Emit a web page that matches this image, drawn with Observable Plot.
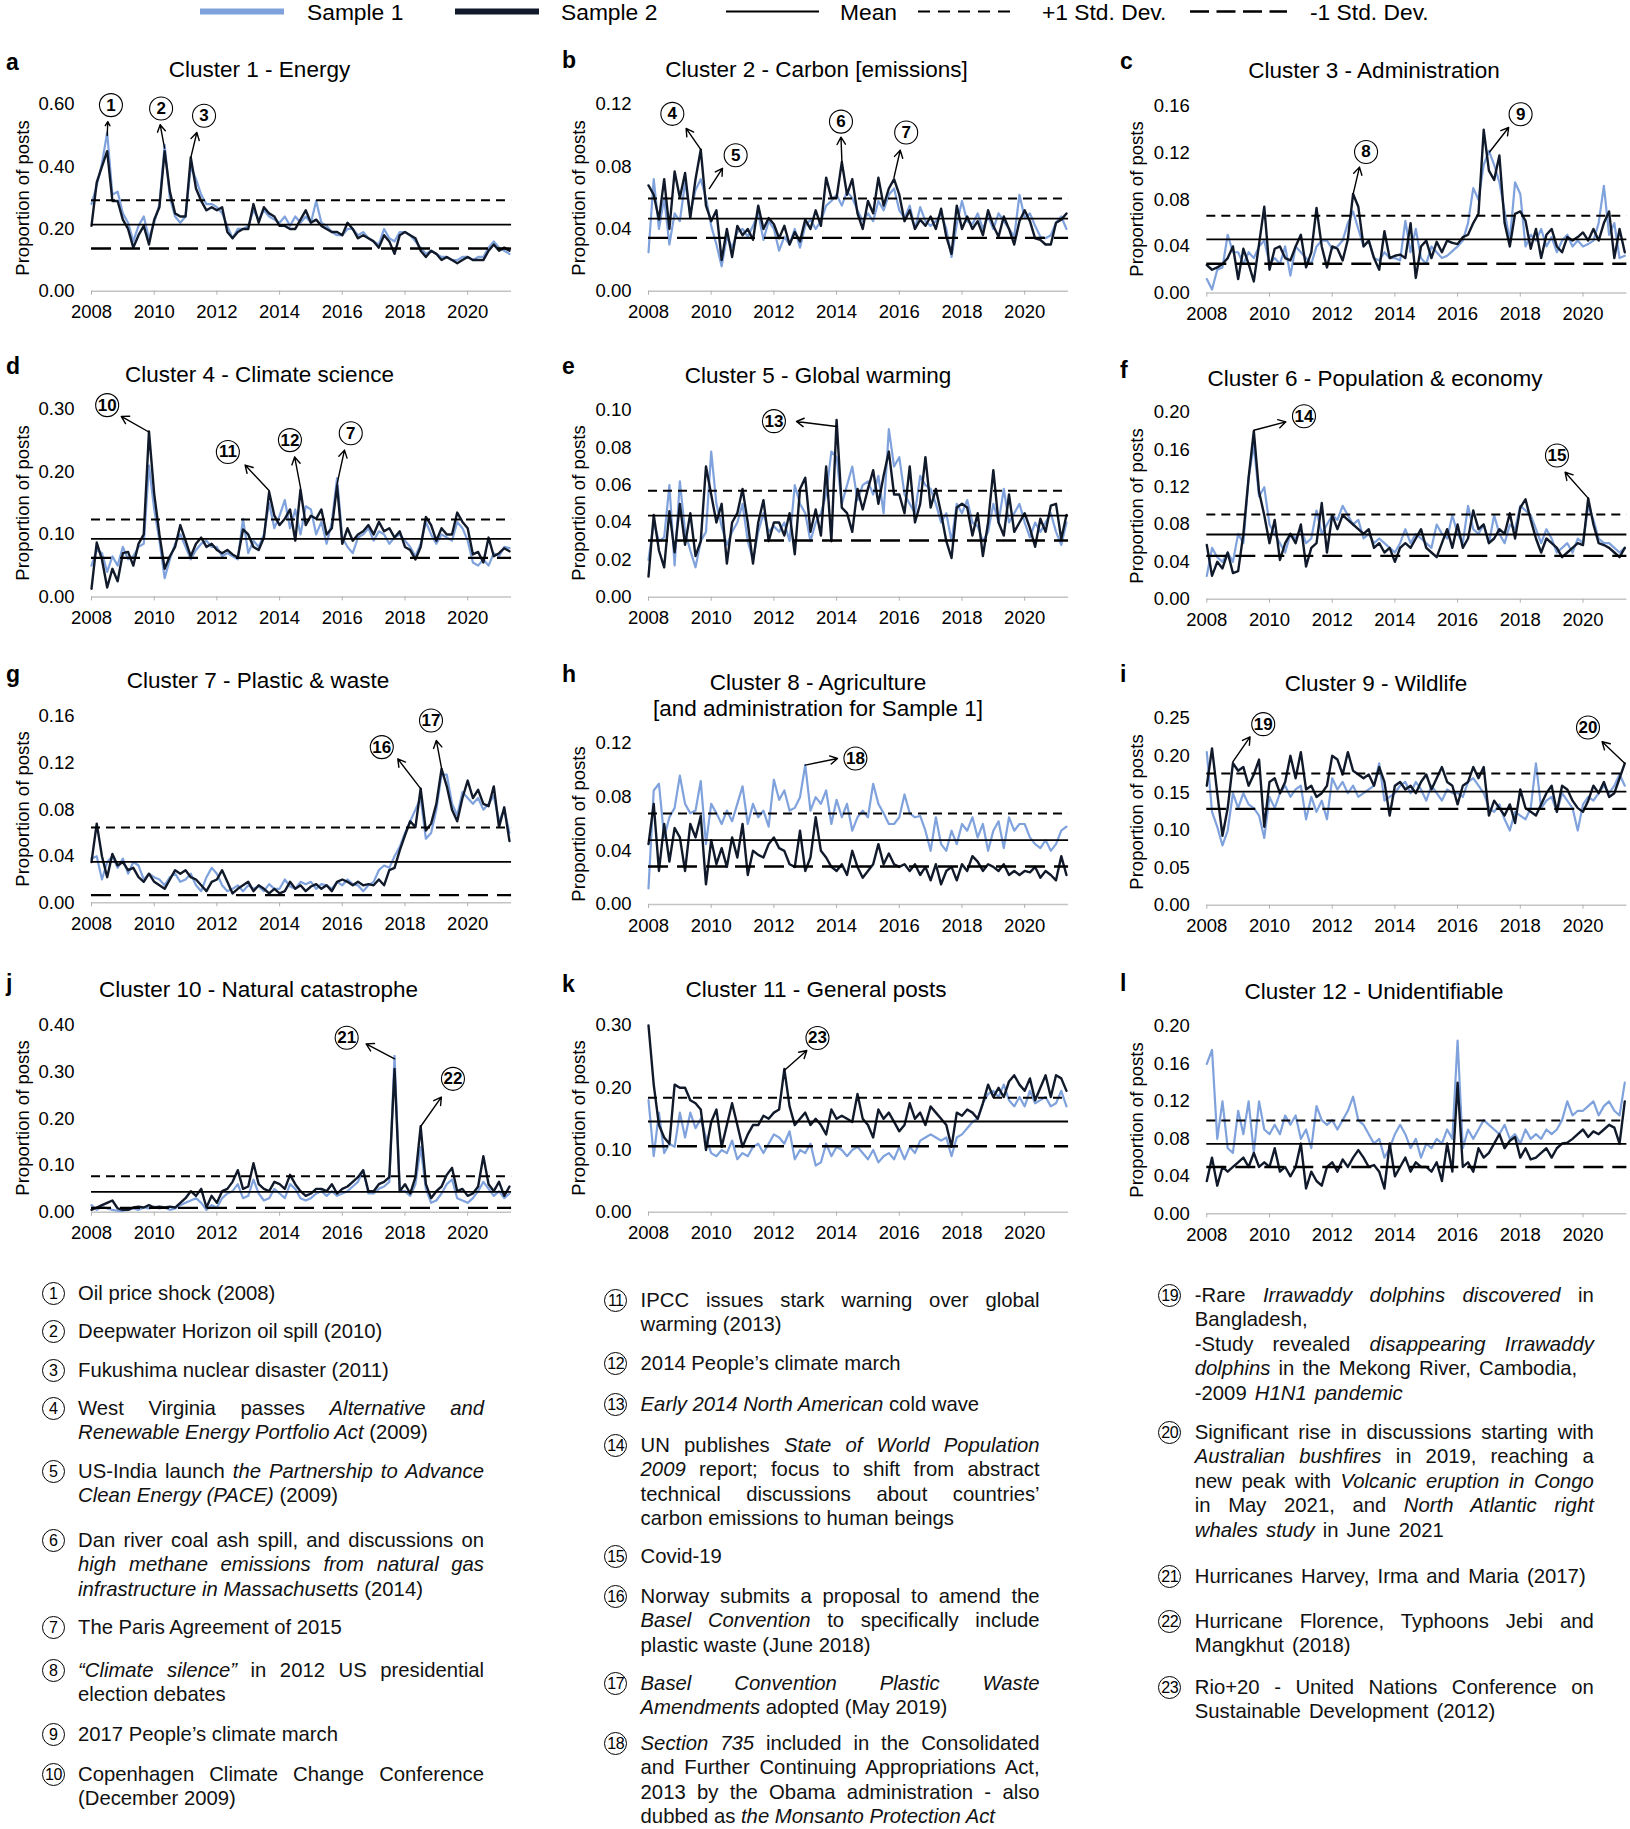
<!DOCTYPE html>
<html><head><meta charset="utf-8">
<script src="https://cdn.jsdelivr.net/npm/d3@7"></script>
<script src="https://cdn.jsdelivr.net/npm/@observablehq/plot@0.6"></script>
<style>
html,body{margin:0;padding:0;background:#fff;}
#root{position:relative;width:1630px;height:1829px;overflow:hidden;font-family:"Liberation Sans",Arial,Helvetica,sans-serif;color:#000;}
.abs{position:absolute;white-space:nowrap;}
.note{position:absolute;font-size:20.3px;line-height:24.5px;text-align:justify;color:#111;}
.num{position:absolute;width:21px;height:21px;border:1.3px solid #000;border-radius:50%;font-size:16px;line-height:21px;text-align:center;box-sizing:content-box;color:#000;}
</style></head>
<body><div id="root"></div>
<script>
// ---------------- DATA ----------------
// bimonthly samples: Jan 2008, Mar 2008, ... May 2021
const months = d3.range(81).map(i => 2008 + i / 6);
const xTicks = [2008, 2010, 2012, 2014, 2016, 2018, 2020];
const legendLabels = ["Sample 1", "Sample 2", "Mean", "+1 Std. Dev.", "-1 Std. Dev."];
const panelLetters = ["a","b","c","d","e","f","g","h","i","j","k","l"];
const titles = [
  ["Cluster 1 - Energy"], ["Cluster 2 - Carbon [emissions]"], ["Cluster 3 - Administration"],
  ["Cluster 4 - Climate science"], ["Cluster 5 - Global warming"], ["Cluster 6 - Population & economy"],
  ["Cluster 7 - Plastic & waste"], ["Cluster 8 - Agriculture", "[and administration for Sample 1]"], ["Cluster 9 - Wildlife"],
  ["Cluster 10 - Natural catastrophe"], ["Cluster 11 - General posts"], ["Cluster 12 - Unidentifiable"]
];
const yLabel = "Proportion of posts";
const yMax = [0.6, 0.12, 0.16, 0.3, 0.1, 0.2, 0.16, 0.12, 0.25, 0.4, 0.3, 0.2];
const yTicks = [
  [0, 0.2, 0.4, 0.6], [0, 0.04, 0.08, 0.12], [0, 0.04, 0.08, 0.12, 0.16],
  [0, 0.1, 0.2, 0.3], [0, 0.02, 0.04, 0.06, 0.08, 0.1], [0, 0.04, 0.08, 0.12, 0.16, 0.2],
  [0, 0.04, 0.08, 0.12, 0.16], [0, 0.04, 0.08, 0.12], [0, 0.05, 0.1, 0.15, 0.2, 0.25],
  [0, 0.1, 0.2, 0.3, 0.4], [0, 0.1, 0.2, 0.3], [0, 0.04, 0.08, 0.12, 0.16, 0.2]
];
const means   = [0.214, 0.0467, 0.046, 0.0929, 0.0437, 0.0693, 0.0352, 0.048, 0.1522, 0.0436, 0.1457, 0.0747];
const plusSD  = [0.2925, 0.0596, 0.0663, 0.1239, 0.057, 0.0907, 0.0647, 0.0678, 0.1763, 0.0771, 0.1837, 0.0996];
const minusSD = [0.137, 0.0343, 0.0251, 0.0625, 0.0304, 0.0464, 0.0066, 0.0283, 0.129, 0.0093, 0.106, 0.05];

// Cluster 1 - Energy
const c1s1 = [
 0.28,0.34,0.41,0.51,0.31,0.32, 0.25,0.22,0.16,0.21,0.24,0.17, 0.22,0.28,0.47,0.30,0.24,0.22,
 0.24,0.40,0.36,0.31,0.28,0.28, 0.27,0.25,0.21,0.17,0.20,0.20, 0.21,0.26,0.23,0.26,0.24,0.23,
 0.22,0.24,0.21,0.24,0.22,0.24, 0.22,0.29,0.22,0.21,0.19,0.18, 0.18,0.20,0.20,0.18,0.19,0.17,
 0.16,0.15,0.20,0.17,0.16,0.19, 0.19,0.18,0.16,0.14,0.12,0.13, 0.12,0.11,0.11,0.10,0.10,0.11,
 0.11,0.10,0.11,0.11,0.14,0.16, 0.14,0.13,0.12];
const c1s2 = [
 0.21,0.35,0.40,0.45,0.29,0.29, 0.23,0.20,0.14,0.18,0.21,0.15, 0.23,0.27,0.45,0.32,0.25,0.24,
 0.24,0.43,0.33,0.29,0.26,0.27, 0.26,0.27,0.19,0.17,0.19,0.20, 0.20,0.28,0.22,0.27,0.25,0.24,
 0.21,0.21,0.20,0.20,0.23,0.26, 0.22,0.23,0.21,0.20,0.19,0.19, 0.18,0.22,0.20,0.17,0.18,0.17,
 0.16,0.14,0.18,0.16,0.12,0.18, 0.19,0.18,0.17,0.13,0.11,0.13, 0.12,0.10,0.11,0.10,0.09,0.10,
 0.11,0.10,0.10,0.10,0.13,0.15, 0.13,0.14,0.13];
// Cluster 2 - Carbon
const c2s1 = [
 0.025,0.072,0.040,0.060,0.030,0.050, 0.045,0.070,0.050,0.065,0.072,0.060, 0.042,0.030,0.016,0.035,0.028,0.038,
 0.040,0.035,0.042,0.050,0.033,0.045, 0.040,0.026,0.035,0.030,0.040,0.028, 0.042,0.046,0.040,0.045,0.055,0.058,
 0.062,0.055,0.064,0.060,0.052,0.045, 0.050,0.045,0.058,0.052,0.062,0.066, 0.052,0.047,0.055,0.040,0.054,0.045,
 0.042,0.045,0.050,0.040,0.022,0.043, 0.058,0.045,0.043,0.050,0.040,0.048, 0.040,0.050,0.045,0.040,0.035,0.062,
 0.047,0.050,0.042,0.035,0.034,0.036, 0.044,0.048,0.040];
const c2s2 = [
 0.068,0.062,0.046,0.072,0.040,0.077, 0.060,0.076,0.047,0.072,0.091,0.055, 0.045,0.052,0.020,0.040,0.022,0.042,
 0.036,0.040,0.033,0.055,0.040,0.047, 0.043,0.034,0.042,0.030,0.038,0.032, 0.046,0.040,0.052,0.042,0.073,0.060,
 0.060,0.083,0.062,0.072,0.050,0.040, 0.058,0.050,0.073,0.055,0.066,0.072, 0.062,0.045,0.052,0.040,0.046,0.042,
 0.048,0.040,0.053,0.035,0.024,0.055, 0.040,0.048,0.040,0.045,0.036,0.052, 0.042,0.035,0.048,0.040,0.030,0.045,
 0.052,0.045,0.034,0.033,0.030,0.030, 0.044,0.046,0.050];
// Cluster 3 - Administration
const c3s1 = [
 0.012,0.003,0.020,0.022,0.050,0.035, 0.035,0.025,0.035,0.030,0.040,0.045, 0.025,0.030,0.025,0.040,0.015,0.040,
 0.035,0.030,0.025,0.040,0.045,0.045, 0.038,0.040,0.045,0.060,0.070,0.055, 0.040,0.045,0.030,0.028,0.035,0.030,
 0.030,0.028,0.062,0.035,0.055,0.030, 0.025,0.040,0.035,0.030,0.032,0.036, 0.040,0.045,0.060,0.090,0.080,0.110,
 0.122,0.110,0.095,0.070,0.045,0.095, 0.085,0.040,0.050,0.045,0.055,0.040, 0.048,0.035,0.045,0.050,0.040,0.045,
 0.040,0.042,0.045,0.060,0.092,0.050, 0.060,0.030,0.032];
const c3s2 = [
 0.024,0.020,0.022,0.025,0.030,0.040, 0.012,0.038,0.025,0.010,0.042,0.074, 0.020,0.038,0.040,0.030,0.028,0.040,
 0.050,0.022,0.035,0.073,0.040,0.022, 0.040,0.038,0.028,0.046,0.085,0.074, 0.040,0.045,0.030,0.020,0.053,0.030,
 0.032,0.033,0.030,0.060,0.013,0.040, 0.045,0.030,0.044,0.035,0.045,0.043, 0.042,0.048,0.050,0.060,0.068,0.140,
 0.105,0.097,0.118,0.060,0.040,0.068, 0.070,0.062,0.038,0.055,0.030,0.050, 0.055,0.040,0.035,0.048,0.045,0.048,
 0.052,0.045,0.055,0.045,0.060,0.070, 0.030,0.055,0.035];
// Cluster 4 - Climate science
const c4s1 = [
 0.050,0.075,0.070,0.040,0.065,0.050, 0.080,0.060,0.065,0.080,0.085,0.210, 0.140,0.090,0.030,0.060,0.085,0.100,
 0.080,0.060,0.075,0.085,0.090,0.080, 0.080,0.065,0.070,0.065,0.060,0.125, 0.070,0.090,0.080,0.100,0.150,0.110,
 0.130,0.155,0.110,0.140,0.100,0.145, 0.140,0.100,0.120,0.085,0.120,0.190, 0.095,0.080,0.070,0.095,0.100,0.110,
 0.090,0.105,0.100,0.085,0.095,0.100, 0.090,0.080,0.065,0.085,0.120,0.100, 0.085,0.100,0.095,0.090,0.120,0.110,
 0.090,0.055,0.050,0.060,0.050,0.070, 0.065,0.080,0.078];
const c4s2 = [
 0.013,0.087,0.060,0.015,0.045,0.025, 0.070,0.072,0.050,0.085,0.100,0.265, 0.165,0.100,0.045,0.065,0.080,0.115,
 0.090,0.065,0.085,0.095,0.080,0.085, 0.075,0.070,0.075,0.068,0.063,0.108, 0.100,0.080,0.075,0.095,0.168,0.130,
 0.115,0.125,0.140,0.090,0.172,0.115, 0.130,0.125,0.140,0.100,0.110,0.178, 0.085,0.110,0.090,0.100,0.105,0.115,
 0.100,0.120,0.105,0.110,0.095,0.105, 0.080,0.075,0.060,0.080,0.128,0.115, 0.090,0.110,0.100,0.100,0.135,0.120,
 0.110,0.068,0.072,0.055,0.095,0.065, 0.070,0.078,0.073];
// Cluster 5 - Global warming
const c5s1 = [
 0.020,0.040,0.030,0.032,0.060,0.017, 0.062,0.035,0.025,0.016,0.030,0.035, 0.078,0.050,0.038,0.028,0.035,0.040,
 0.050,0.030,0.020,0.035,0.045,0.035, 0.038,0.035,0.040,0.030,0.060,0.050, 0.045,0.030,0.040,0.045,0.055,0.078,
 0.075,0.050,0.060,0.070,0.052,0.060, 0.062,0.055,0.065,0.045,0.090,0.070, 0.075,0.055,0.050,0.045,0.065,0.060,
 0.058,0.050,0.040,0.045,0.030,0.050, 0.045,0.052,0.040,0.038,0.030,0.035, 0.050,0.040,0.058,0.040,0.045,0.050,
 0.040,0.032,0.040,0.035,0.040,0.045, 0.035,0.028,0.040];
const c5s2 = [
 0.011,0.044,0.025,0.016,0.046,0.024, 0.050,0.028,0.045,0.022,0.030,0.070, 0.055,0.040,0.050,0.018,0.040,0.045,
 0.058,0.040,0.018,0.040,0.052,0.030, 0.040,0.040,0.033,0.045,0.023,0.058, 0.064,0.035,0.047,0.033,0.070,0.030,
 0.095,0.048,0.045,0.035,0.058,0.047, 0.058,0.068,0.050,0.065,0.078,0.055, 0.055,0.045,0.070,0.040,0.050,0.075,
 0.048,0.058,0.045,0.030,0.021,0.048, 0.050,0.048,0.033,0.045,0.022,0.040, 0.068,0.040,0.033,0.055,0.035,0.040,
 0.045,0.037,0.027,0.042,0.035,0.049, 0.050,0.031,0.044];
// Cluster 6 - Population & economy
const c6s1 = [
 0.025,0.055,0.045,0.040,0.050,0.040, 0.070,0.060,0.130,0.165,0.110,0.120, 0.080,0.070,0.060,0.050,0.070,0.065,
 0.075,0.060,0.065,0.095,0.070,0.080, 0.090,0.085,0.100,0.090,0.080,0.085, 0.065,0.070,0.060,0.065,0.060,0.055,
 0.050,0.060,0.075,0.060,0.070,0.065, 0.060,0.055,0.080,0.070,0.065,0.090, 0.070,0.060,0.100,0.075,0.070,0.080,
 0.060,0.090,0.070,0.060,0.080,0.075, 0.100,0.095,0.090,0.075,0.060,0.075, 0.065,0.050,0.055,0.060,0.050,0.065,
 0.060,0.100,0.085,0.065,0.060,0.060, 0.055,0.050,0.055];
const c6s2 = [
 0.058,0.025,0.040,0.033,0.050,0.028, 0.030,0.070,0.130,0.180,0.115,0.090, 0.060,0.085,0.042,0.060,0.070,0.060,
 0.080,0.035,0.055,0.060,0.103,0.050, 0.090,0.075,0.090,0.085,0.080,0.075, 0.070,0.075,0.055,0.060,0.050,0.055,
 0.040,0.055,0.060,0.055,0.065,0.075, 0.055,0.050,0.045,0.060,0.075,0.055, 0.080,0.055,0.065,0.095,0.075,0.080,
 0.060,0.065,0.075,0.070,0.092,0.065, 0.098,0.107,0.085,0.065,0.050,0.065, 0.060,0.055,0.045,0.050,0.055,0.060,
 0.058,0.108,0.080,0.060,0.058,0.055, 0.050,0.045,0.055];
// Cluster 7 - Plastic & waste
const c7s1 = [
 0.038,0.040,0.020,0.035,0.040,0.030, 0.038,0.025,0.035,0.032,0.020,0.025, 0.022,0.020,0.015,0.022,0.025,0.018,
 0.020,0.025,0.015,0.010,0.022,0.030, 0.025,0.015,0.010,0.012,0.015,0.010, 0.015,0.012,0.014,0.010,0.016,0.012,
 0.012,0.020,0.014,0.012,0.018,0.016, 0.018,0.012,0.016,0.015,0.012,0.018, 0.015,0.020,0.016,0.015,0.010,0.015,
 0.018,0.028,0.032,0.030,0.040,0.048, 0.060,0.070,0.080,0.090,0.055,0.060, 0.080,0.110,0.110,0.085,0.075,0.095,
 0.090,0.085,0.090,0.080,0.085,0.092, 0.070,0.080,0.060];
const c7s2 = [
 0.035,0.068,0.040,0.022,0.042,0.032, 0.035,0.028,0.030,0.022,0.018,0.025, 0.018,0.015,0.012,0.020,0.028,0.025,
 0.028,0.022,0.020,0.015,0.010,0.018, 0.020,0.028,0.018,0.008,0.012,0.015, 0.018,0.010,0.015,0.012,0.008,0.012,
 0.008,0.010,0.018,0.012,0.015,0.010, 0.014,0.016,0.012,0.015,0.010,0.018, 0.020,0.018,0.015,0.018,0.015,0.016,
 0.015,0.020,0.015,0.028,0.030,0.045, 0.058,0.070,0.065,0.098,0.062,0.068, 0.085,0.115,0.100,0.080,0.070,0.090,
 0.105,0.090,0.097,0.085,0.083,0.100, 0.065,0.082,0.053];
// Cluster 8 - Agriculture
const c8s1 = [
 0.012,0.085,0.090,0.050,0.065,0.072, 0.096,0.075,0.068,0.070,0.092,0.045, 0.075,0.068,0.060,0.070,0.062,0.075,
 0.088,0.060,0.075,0.065,0.070,0.058, 0.093,0.078,0.085,0.070,0.072,0.080, 0.104,0.070,0.080,0.075,0.085,0.060,
 0.078,0.065,0.075,0.055,0.065,0.070, 0.065,0.090,0.075,0.068,0.060,0.060, 0.065,0.082,0.068,0.065,0.066,0.055,
 0.040,0.065,0.045,0.040,0.055,0.045, 0.060,0.055,0.065,0.050,0.060,0.040, 0.055,0.062,0.042,0.065,0.055,0.060,
 0.060,0.050,0.045,0.042,0.048,0.040, 0.045,0.055,0.058];
const c8s2 = [
 0.045,0.075,0.025,0.060,0.032,0.057, 0.050,0.025,0.060,0.050,0.066,0.015, 0.048,0.030,0.042,0.028,0.050,0.035,
 0.060,0.022,0.040,0.037,0.035,0.045, 0.050,0.042,0.040,0.030,0.028,0.055, 0.025,0.035,0.065,0.040,0.035,0.028,
 0.025,0.030,0.022,0.040,0.028,0.020, 0.025,0.030,0.045,0.030,0.038,0.030, 0.028,0.030,0.025,0.030,0.022,0.028,
 0.018,0.030,0.015,0.025,0.028,0.018, 0.030,0.025,0.036,0.032,0.025,0.030, 0.028,0.025,0.030,0.022,0.025,0.022,
 0.025,0.024,0.028,0.020,0.025,0.022, 0.018,0.036,0.022];
// Cluster 9 - Wildlife
const c9s1 = [
 0.205,0.125,0.105,0.080,0.100,0.150, 0.130,0.150,0.135,0.130,0.120,0.090, 0.145,0.130,0.150,0.160,0.145,0.155,
 0.160,0.115,0.145,0.125,0.140,0.115, 0.170,0.155,0.165,0.150,0.160,0.145, 0.150,0.155,0.160,0.190,0.140,0.145,
 0.150,0.160,0.165,0.150,0.165,0.155, 0.140,0.160,0.150,0.140,0.155,0.150, 0.150,0.145,0.165,0.170,0.160,0.150,
 0.130,0.125,0.135,0.115,0.100,0.125, 0.120,0.115,0.130,0.190,0.130,0.140, 0.145,0.125,0.150,0.140,0.130,0.100,
 0.135,0.145,0.140,0.150,0.160,0.150, 0.160,0.175,0.160];
const c9s2 = [
 0.160,0.210,0.150,0.093,0.130,0.190, 0.180,0.185,0.160,0.175,0.195,0.105, 0.165,0.170,0.150,0.165,0.200,0.170,
 0.205,0.155,0.160,0.145,0.150,0.160, 0.200,0.195,0.175,0.205,0.180,0.175, 0.170,0.175,0.160,0.185,0.165,0.120,
 0.160,0.165,0.155,0.160,0.150,0.165, 0.175,0.155,0.170,0.185,0.165,0.160, 0.135,0.160,0.165,0.185,0.170,0.185,
 0.120,0.140,0.130,0.120,0.135,0.110, 0.155,0.130,0.125,0.120,0.135,0.150, 0.160,0.125,0.160,0.155,0.140,0.130,
 0.125,0.140,0.160,0.150,0.165,0.145, 0.150,0.170,0.190];
// Cluster 10 - Natural catastrophe
const c10s1 = [
 0.015,0.005,0.012,0.008,0.005,0.003, 0.003,0.005,0.008,0.005,0.010,0.008, 0.012,0.008,0.010,0.005,0.008,0.015,
 0.020,0.025,0.030,0.020,0.005,0.015, 0.010,0.030,0.040,0.045,0.060,0.030, 0.035,0.070,0.040,0.025,0.030,0.050,
 0.040,0.030,0.060,0.050,0.030,0.025, 0.030,0.040,0.045,0.035,0.045,0.035, 0.040,0.045,0.055,0.065,0.090,0.040,
 0.040,0.050,0.055,0.065,0.335,0.045, 0.045,0.035,0.060,0.140,0.050,0.020, 0.025,0.040,0.060,0.070,0.030,0.025,
 0.020,0.030,0.045,0.065,0.050,0.035, 0.045,0.030,0.040];
const c10s2 = [
 0.005,0.010,0.015,0.020,0.025,0.008, 0.005,0.005,0.010,0.012,0.010,0.015, 0.010,0.012,0.010,0.012,0.010,0.020,
 0.030,0.045,0.035,0.050,0.010,0.035, 0.020,0.045,0.050,0.065,0.090,0.050, 0.055,0.105,0.060,0.050,0.045,0.065,
 0.060,0.050,0.080,0.060,0.045,0.035, 0.040,0.050,0.050,0.045,0.060,0.040, 0.050,0.055,0.065,0.075,0.090,0.045,
 0.045,0.060,0.065,0.075,0.307,0.045, 0.060,0.040,0.075,0.184,0.060,0.030, 0.045,0.055,0.080,0.095,0.045,0.050,
 0.035,0.040,0.055,0.120,0.060,0.045, 0.065,0.035,0.055];
// Cluster 11 - General posts
const c11s1 = [
 0.180,0.090,0.160,0.095,0.110,0.105, 0.160,0.120,0.160,0.135,0.150,0.120, 0.095,0.090,0.100,0.095,0.115,0.085,
 0.095,0.090,0.105,0.110,0.095,0.110, 0.125,0.120,0.110,0.130,0.085,0.100, 0.095,0.110,0.075,0.080,0.110,0.090,
 0.105,0.100,0.090,0.100,0.105,0.095, 0.085,0.100,0.080,0.090,0.095,0.085, 0.105,0.085,0.105,0.095,0.115,0.120,
 0.125,0.120,0.115,0.120,0.090,0.120, 0.125,0.135,0.145,0.150,0.175,0.190, 0.195,0.185,0.205,0.180,0.170,0.185,
 0.170,0.195,0.175,0.180,0.185,0.170, 0.175,0.195,0.170];
const c11s2 = [
 0.300,0.205,0.140,0.120,0.110,0.205, 0.200,0.200,0.180,0.175,0.165,0.100, 0.145,0.165,0.105,0.140,0.175,0.140,
 0.105,0.125,0.140,0.140,0.155,0.150, 0.160,0.165,0.230,0.170,0.140,0.150, 0.160,0.140,0.150,0.140,0.125,0.165,
 0.150,0.155,0.150,0.145,0.190,0.150, 0.140,0.120,0.165,0.150,0.160,0.145, 0.130,0.140,0.175,0.150,0.160,0.140,
 0.170,0.160,0.150,0.140,0.105,0.160, 0.155,0.165,0.160,0.150,0.175,0.205, 0.185,0.200,0.185,0.210,0.220,0.205,
 0.195,0.215,0.180,0.200,0.220,0.185, 0.220,0.215,0.195];
// Cluster 12 - Unidentifiable
const c12s1 = [
 0.160,0.175,0.080,0.120,0.070,0.065, 0.110,0.085,0.120,0.065,0.120,0.090, 0.085,0.095,0.085,0.105,0.095,0.105,
 0.080,0.090,0.070,0.115,0.100,0.095, 0.100,0.090,0.100,0.110,0.125,0.100, 0.095,0.085,0.075,0.080,0.060,0.070,
 0.085,0.095,0.085,0.070,0.080,0.060, 0.075,0.070,0.080,0.075,0.090,0.080, 0.185,0.070,0.090,0.080,0.090,0.100,
 0.095,0.090,0.085,0.095,0.080,0.085, 0.075,0.090,0.080,0.085,0.080,0.090, 0.085,0.090,0.100,0.120,0.105,0.110,
 0.110,0.115,0.120,0.105,0.115,0.120, 0.110,0.105,0.140];
const c12s2 = [
 0.035,0.060,0.030,0.050,0.045,0.050, 0.055,0.060,0.050,0.065,0.050,0.055, 0.050,0.070,0.045,0.050,0.040,0.050,
 0.075,0.027,0.045,0.035,0.030,0.050, 0.055,0.045,0.058,0.050,0.060,0.068, 0.060,0.050,0.052,0.045,0.027,0.075,
 0.040,0.050,0.060,0.045,0.055,0.050, 0.050,0.045,0.055,0.035,0.075,0.045, 0.140,0.050,0.055,0.045,0.070,0.060,
 0.065,0.075,0.085,0.070,0.078,0.082, 0.060,0.070,0.058,0.060,0.065,0.070, 0.060,0.070,0.075,0.076,0.080,0.085,
 0.090,0.082,0.088,0.085,0.090,0.095, 0.092,0.075,0.120];

const sample1 = [c1s1, c2s1, c3s1, c4s1, c5s1, c6s1, c7s1, c8s1, c9s1, c10s1, c11s1, c12s1];
const sample2 = [c1s2, c2s2, c3s2, c4s2, c5s2, c6s2, c7s2, c8s2, c9s2, c10s2, c11s2, c12s2];

// event call-outs: arrow from (x1,y1) to (x2,y2), numbered circle at (cx,cy) — data units
const annotations = [
  [{n:1,x1:2008.5,y1:0.50,x2:2008.52,y2:0.545,cx:2008.62,cy:0.598},
   {n:2,x1:2010.33,y1:0.46,x2:2010.19,y2:0.535,cx:2010.22,cy:0.587},
   {n:3,x1:2011.17,y1:0.43,x2:2011.36,y2:0.51,cx:2011.59,cy:0.564}],
  [{n:4,x1:2009.67,y1:0.091,x2:2009.2,y2:0.1046,cx:2008.76,cy:0.114},
   {n:5,x1:2009.94,y1:0.066,x2:2010.36,y2:0.079,cx:2010.78,cy:0.0874},
   {n:6,x1:2014.17,y1:0.083,x2:2014.14,y2:0.099,cx:2014.14,cy:0.109},
   {n:7,x1:2015.83,y1:0.073,x2:2016.03,y2:0.0906,cx:2016.22,cy:0.102}],
  [{n:8,x1:2012.67,y1:0.085,x2:2012.87,y2:0.108,cx:2013.08,cy:0.121},
   {n:9,x1:2017.02,y1:0.121,x2:2017.63,y2:0.142,cx:2018.01,cy:0.1534}],
  [{n:10,x1:2009.83,y1:0.264,x2:2008.95,y2:0.289,cx:2008.5,cy:0.307},
   {n:11,x1:2013.67,y1:0.17,x2:2012.9,y2:0.211,cx:2012.35,cy:0.232},
   {n:12,x1:2014.67,y1:0.174,x2:2014.48,y2:0.224,cx:2014.33,cy:0.251},
   {n:7,x1:2015.83,y1:0.18,x2:2016.07,y2:0.235,cx:2016.27,cy:0.262}],
  [{n:13,x1:2014.0,y1:0.0914,x2:2012.72,y2:0.0941,cx:2012.0,cy:0.0943}],
  [{n:14,x1:2009.5,y1:0.181,x2:2010.52,y2:0.19,cx:2011.1,cy:0.196},
   {n:15,x1:2020.17,y1:0.108,x2:2019.43,y2:0.136,cx:2019.17,cy:0.154}],
  [{n:16,x1:2018.5,y1:0.098,x2:2017.77,y2:0.1236,cx:2017.26,cy:0.1337},
   {n:17,x1:2019.17,y1:0.115,x2:2019.0,y2:0.1394,cx:2018.83,cy:0.1566}],
  [{n:18,x1:2013.0,y1:0.1039,x2:2014.03,y2:0.1088,cx:2014.6,cy:0.1088}],
  [{n:19,x1:2008.83,y1:0.192,x2:2009.38,y2:0.2254,cx:2009.8,cy:0.2424},
   {n:20,x1:2021.33,y1:0.19,x2:2020.61,y2:0.2188,cx:2020.16,cy:0.238}],
  [{n:21,x1:2017.67,y1:0.3286,x2:2016.76,y2:0.3607,cx:2016.14,cy:0.3736},
   {n:22,x1:2018.5,y1:0.1836,x2:2019.16,y2:0.2464,cx:2019.53,cy:0.2857}],
  [{n:23,x1:2012.33,y1:0.2276,x2:2013.05,y2:0.2598,cx:2013.39,cy:0.280}],
  []
];

const notes = [
  {n:1, html:"Oil price shock (2008)"},
  {n:2, html:"Deepwater Horizon oil spill (2010)"},
  {n:3, html:"Fukushima nuclear disaster (2011)"},
  {n:4, html:"West Virginia passes <i>Alternative and Renewable Energy Portfolio Act</i> (2009)"},
  {n:5, html:"US-India launch <i>the Partnership to Advance Clean Energy (PACE)</i> (2009)"},
  {n:6, html:"Dan river coal ash spill, and discussions on <i>high methane emissions from natural gas infrastructure in Massachusetts</i> (2014)"},
  {n:7, html:"The Paris Agreement of 2015"},
  {n:8, html:"<i>\u201CClimate silence\u201D</i> in 2012 US presidential election debates"},
  {n:9, html:"2017 People\u2019s climate march"},
  {n:10, html:"Copenhagen Climate Change Conference (December 2009)"},
  {n:11, html:"IPCC issues stark warning over global warming (2013)"},
  {n:12, html:"2014 People\u2019s climate march"},
  {n:13, html:"<i>Early 2014 North American</i> cold wave"},
  {n:14, html:"UN publishes <i>State of World Population 2009</i> report; focus to shift from abstract technical discussions about countries\u2019 carbon emissions to human beings"},
  {n:15, html:"Covid-19"},
  {n:16, html:"Norway submits a proposal to amend the <i>Basel Convention</i> to specifically include plastic waste (June 2018)"},
  {n:17, html:"<i>Basel Convention Plastic Waste Amendments</i> adopted (May 2019)"},
  {n:18, html:"<i>Section 735</i> included in the Consolidated and Further Continuing Appropriations Act, 2013 by the Obama administration - also dubbed as <i>the Monsanto Protection Act</i>"},
  {n:19, html:"-Rare <i>Irrawaddy dolphins discovered</i> in Bangladesh,<br>-Study revealed <i>disappearing Irrawaddy dolphins</i> in the Mekong River, Cambodia,<br>-2009 <i>H1N1 pandemic</i>"},
  {n:20, html:"Significant rise in discussions starting with <i>Australian bushfires</i> in 2019, reaching a new peak with <i>Volcanic eruption in Congo</i> in May 2021, and <i>North Atlantic right whales study</i> in June 2021"},
  {n:21, html:"Hurricanes Harvey, Irma and Maria (2017)"},
  {n:22, html:"Hurricane Florence, Typhoons Jebi and Mangkhut (2018)"},
  {n:23, html:"Rio+20 - United Nations Conference on Sustainable Development (2012)"}
];

// ---------------- LAYOUT ----------------
const BLUE = "#7fa2dd", DARK = "#111a2b";
const FONT = '"Liberation Sans", Arial, Helvetica, sans-serif';
const root = document.getElementById("root");
const X_END = 2021.4;
const COLS = [
  {left: 0, plotLeft: 91, ppy: 31.35, ytx: 22.8, lx: 6},
  {left: 550, plotLeft: 648, ppy: 31.35, ytx: 578.6, lx: 562},
  {left: 1110, plotLeft: 1206.3, ppy: 31.35, ytx: 1137, lx: 1120}
];
const FRAME = [[104.3,291],[104.3,291],[105.7,292.3],[409.3,596.7],[410,596.7],[412.3,599],
               [716,902.3],[743.3,904.3],[718.3,905],[1025,1211.7],[1025,1211.7],[1026,1213.3]];
const TITLE_X = [259.5,816.5,1374,259.5,818,1375,258,818,1376,258.5,816,1374];
const TITLE_BASE = [[77],[77.5],[78.5],[382.5],[383.5],[386],[688.5],[690.5,716.5],[691],[997.5],[997.5],[999]];
const LETTER_BASE = [71,69,70,375,375,379,683,683,683,992,993,992];

function addText(html, x, base, size, opts = {}) {
  const d = document.createElement("div");
  d.className = "abs";
  d.innerHTML = html;
  const lh = size * 1.2;
  d.style.fontSize = size + "px";
  d.style.lineHeight = lh + "px";
  d.style.fontWeight = opts.weight || "normal";
  d.style.top = (base - 0.9465 * size) + "px";
  d.style.left = x + "px";
  if (opts.anchor === "middle") d.style.transform = "translateX(-50%)";
  root.appendChild(d);
  return d;
}

for (let p = 0; p < 12; p++) {
  const col = COLS[p % 3];
  const [top, bottom] = FRAME[p];
  const mt = 45, mb = 45, mr = 8;
  const ml = col.plotLeft - col.left;
  const width = ml + (X_END - 2008) * col.ppy + mr;
  const height = mt + (bottom - top) + mb;
  const s1 = sample1[p].map((v, i) => ({t: months[i], v}));
  const s2 = sample2[p].map((v, i) => ({t: months[i], v}));
  const ann = annotations[p];
  const chart = Plot.plot({
    width, height, marginLeft: ml, marginRight: mr, marginTop: mt, marginBottom: mb,
    style: {background: "transparent", overflow: "visible", fontFamily: FONT, fontSize: "18.5px", color: "#000"},
    x: {domain: [2008, X_END], label: null},
    y: {domain: [0, yMax[p]], label: null},
    marks: [
      Plot.ruleY([0], {stroke: "#c4c4c4", strokeWidth: 1.5}),
      Plot.axisX({ticks: xTicks, tickFormat: d => String(d), tickSize: 4, tickPadding: 10, stroke: "#b0b0b0", fill: "#000", fontSize: 18.5, label: null}),
      Plot.axisY({ticks: yTicks[p], tickFormat: d3.format(".2f"), tickSize: 0, tickPadding: 17, fill: "#000", fontSize: 18.5, label: null}),
      Plot.line(s1, {x: "t", y: "v", stroke: BLUE, strokeWidth: 2.2}),
      Plot.line(s2, {x: "t", y: "v", stroke: DARK, strokeWidth: 2.4}),
      Plot.ruleY([means[p]], {stroke: "#000", strokeWidth: 1.8}),
      Plot.ruleY([plusSD[p]], {stroke: "#000", strokeWidth: 2, strokeDasharray: "9,6"}),
      Plot.ruleY([minusSD[p]], {stroke: "#000", strokeWidth: 2.4, strokeDasharray: "20,9"}),
      Plot.arrow(ann, {x1: "x1", y1: "y1", x2: "x2", y2: "y2", stroke: "#000", strokeWidth: 1.4, headLength: 9}),
      Plot.dot(ann, {x: "cx", y: "cy", r: 11.5, fill: "#fff", stroke: "#000", strokeWidth: 1.1}),
      Plot.text(ann, {x: "cx", y: "cy", text: d => String(d.n), fontWeight: "bold", fontSize: 17, fill: "#000"})
    ]
  });
  const wrap = document.createElement("div");
  wrap.style.cssText = `position:absolute;left:${col.left}px;top:${top - mt}px;width:${width}px;height:${height}px;`;
  wrap.appendChild(chart);
  root.appendChild(wrap);

  // title, panel letter, y-axis title
  titles[p].forEach((t, k) => addText(t, TITLE_X[p], TITLE_BASE[p][k], 22.5, {anchor: "middle"}));
  addText(panelLetters[p], col.lx, LETTER_BASE[p], 23, {weight: "bold"});
  const yt = document.createElement("div");
  yt.className = "abs";
  yt.textContent = yLabel;
  const cy = (top + bottom) / 2;
  yt.style.cssText += `font-size:18.5px;line-height:22px;width:162px;text-align:center;left:${col.ytx - 81}px;top:${cy - 11}px;transform:rotate(-90deg);transform-origin:81px 11px;`;
  root.appendChild(yt);
}

// ---------------- LEGEND ----------------
const LEG = [
  {x1: 200, x2: 284, tx: 307, stroke: BLUE, w: 6, dash: null},
  {x1: 455, x2: 539, tx: 561, stroke: DARK, w: 6, dash: null},
  {x1: 726, x2: 819, tx: 840, stroke: "#000", w: 2, dash: null},
  {x1: 918, x2: 1010, tx: 1042, stroke: "#000", w: 2, dash: "12,8"},
  {x1: 1190, x2: 1287, tx: 1310, stroke: "#000", w: 2.4, dash: "19,7.5"}
];
const leg = d3.select(root).append("svg")
  .attr("width", 1630).attr("height", 30)
  .style("position", "absolute").style("left", "0px").style("top", "0px");
LEG.forEach((L, i) => {
  const ln = leg.append("line").attr("x1", L.x1).attr("x2", L.x2).attr("y1", 11.5).attr("y2", 11.5)
    .attr("stroke", L.stroke).attr("stroke-width", L.w);
  if (L.dash) ln.attr("stroke-dasharray", L.dash);
  leg.append("text").attr("x", L.tx).attr("y", 19.5).attr("font-family", FONT).attr("font-size", 22.8)
    .attr("fill", "#000").text(legendLabels[i]);
});

// ---------------- NOTES ----------------
const NOTE_COLS = [
  {cx: 53.7, left: 78, width: 406, ws: 0},
  {cx: 616, left: 640.6, width: 399, ws: 0},
  {cx: 1170, left: 1194.8, width: 399, ws: 2.5}
];
const NOTE_Y = {1:1294,2:1332,3:1371,4:1409,5:1472,6:1541,7:1628,8:1671,9:1735,10:1775,
  11:1301,12:1364,13:1405,14:1446,15:1557,16:1597,17:1684,18:1744,
  19:1296,20:1433,21:1577,22:1622,23:1688};
notes.forEach(nt => {
  const c = NOTE_COLS[nt.n <= 10 ? 0 : nt.n <= 18 ? 1 : 2];
  const y = NOTE_Y[nt.n];
  const circ = document.createElement("div");
  circ.className = "num";
  circ.textContent = nt.n;
  circ.style.left = (c.cx - 11.8) + "px";
  circ.style.top = (y - 11.8) + "px";
  if (nt.n >= 10) circ.style.letterSpacing = "-0.5px";
  root.appendChild(circ);
  const d = document.createElement("div");
  d.className = "note";
  d.innerHTML = nt.html;
  d.style.left = c.left + "px";
  d.style.width = c.width + "px";
  d.style.wordSpacing = c.ws + "px";
  d.style.top = (y - 13.5) + "px";
  root.appendChild(d);
});
</script></body></html>
